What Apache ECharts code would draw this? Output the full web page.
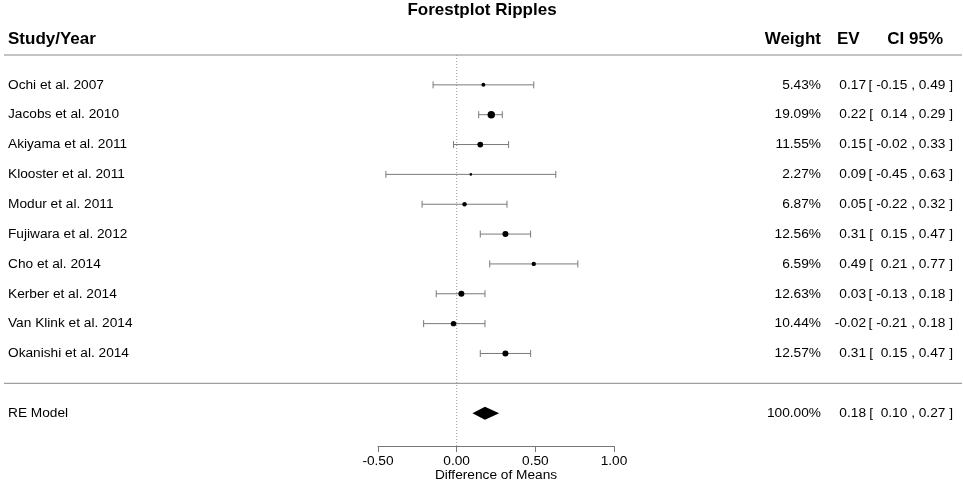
<!DOCTYPE html>
<html><head><meta charset="utf-8">
<script src="https://cdn.jsdelivr.net/npm/echarts@6/dist/echarts.min.js"></script>
<style>html,body{margin:0;padding:0;background:#fff}#c{width:964px;height:483px}</style>
</head><body><div id="c"></div>
<script>
const studies = ['Ochi et al. 2007','Jacobs et al. 2010','Akiyama et al. 2011','Klooster et al. 2011','Modur et al. 2011','Fujiwara et al. 2012','Cho et al. 2014','Kerber et al. 2014','Van Klink et al. 2014','Okanishi et al. 2014'];
const weights = [5.43,19.09,11.55,2.27,6.87,12.56,6.59,12.63,10.44,12.57];
const ev = [0.17,0.22,0.15,0.09,0.05,0.31,0.49,0.03,-0.02,0.31];
const ciLow = [-0.15,0.14,-0.02,-0.45,-0.22,0.15,0.21,-0.13,-0.21,0.15];
const ciHigh = [0.49,0.29,0.33,0.63,0.32,0.47,0.77,0.18,0.18,0.47];
const summaryLabel = 'RE Model';
const summaryWeight = [100.00];
const summaryEV = [0.18];
const summaryLow = [0.10];
const summaryHigh = [0.27];
const xTicks = [-0.5, 0, 0.5, 1.0];
const headers = ['Study/Year','Weight','EV','CI 95%'];

const FONT = '"Liberation Sans", Arial, sans-serif';
const FS = 13.7;
const SUMMARY_ROW = studies.length + 1;
const SEP_ROW = studies.length;

function fmt(v){ return v.toFixed(2); }
function ciText(lo, hi){
  return '[ ' + (lo < 0 ? '' : ' ') + fmt(lo) + ' , ' + fmt(hi) + ' ]';
}

const rows = studies.map((s,i)=>[i, ev[i], ciLow[i], ciHigh[i], weights[i]]);
const textRows = studies.map((s,i)=>({value:[i, ev[i]], name:s, w:weights[i], lo:ciLow[i], hi:ciHigh[i]}));
textRows.push({value:[SUMMARY_ROW, summaryEV[0]], name:summaryLabel, w:summaryWeight[0], lo:summaryLow[0], hi:summaryHigh[0]});

const chart = echarts.init(document.getElementById('c'), null, {renderer:'canvas'});
chart.setOption({
  animation:false,
  backgroundColor:'#fff',
  title:{text:'Forestplot Ripples', left:'center', top:-3, textStyle:{fontFamily:FONT, fontSize:17, fontWeight:'bold', color:'#000'}},
  grid:{left:378, right:350, top:55, bottom:37, containLabel:false, outerBoundsMode:'none'},
  xAxis:{type:'value', min:-0.5, max:1.0, interval:0.5,
    name:'Difference of Means', nameLocation:'middle', nameGap:22, nameMoveOverlap:false,
    nameTextStyle:{fontFamily:FONT, fontSize:FS, color:'#000', verticalAlign:'top'},
    axisLine:{show:true, onZero:false, lineStyle:{color:'#777', width:1}},
    axisTick:{show:true, length:6, lineStyle:{color:'#777'}},
    axisLabel:{formatter:v=>xTicks.includes(v)?fmt(v):'', fontFamily:FONT, fontSize:FS, color:'#000', margin:8},
    splitLine:{show:false}},
  yAxis:{type:'value', min:-1, max:12.1, inverse:true, show:false},
  graphic:[
    {type:'text', left:8, top:31, style:{text:headers[0], font:'bold 17px '+FONT, fill:'#000'}},
    {type:'text', right:964-821, top:31, style:{text:headers[1], font:'bold 17px '+FONT, fill:'#000'}},
    {type:'text', left:837, top:31, style:{text:headers[2], font:'bold 17px '+FONT, fill:'#000'}},
    {type:'text', right:964-943, top:31, style:{text:headers[3], font:'bold 17px '+FONT, fill:'#000'}}
  ],
  series:[
    { // separator lines
      type:'custom', silent:true, clip:false,
      data:[[-1],[SEP_ROW]],
      encode:{y:0},
      renderItem:(params, api)=>{
        const y = api.coord([0, api.value(0)])[1];
        return {type:'line', shape:{x1:4, y1:y, x2:962, y2:y}, style:{stroke:'#888', lineWidth:1}};
      }
    },
    { // zero reference line
      type:'custom', silent:true, clip:false,
      data:[[0,-1,12.1]],
      encode:{x:0},
      renderItem:(params, api)=>{
        const p1 = api.coord([api.value(0), api.value(1)]);
        const p2 = api.coord([api.value(0), api.value(2)]);
        return {type:'line', shape:{x1:p1[0], y1:p1[1], x2:p2[0], y2:p2[1]}, style:{stroke:'#999', lineWidth:1, lineDash:[1,2]}};
      }
    },
    { // study CIs and points
      type:'custom', silent:true, clip:false,
      data:rows,
      encode:{x:[1,2,3], y:0},
      renderItem:(params, api)=>{
        const i = api.value(0);
        const pl = api.coord([api.value(2), i]);
        const ph = api.coord([api.value(3), i]);
        const pc = api.coord([api.value(1), i]);
        const r = 0.85*Math.sqrt(api.value(4));
        const st = {stroke:'#7a7a7a', lineWidth:1};
        return {type:'group', children:[
          {type:'line', shape:{x1:pl[0], y1:pl[1], x2:ph[0], y2:ph[1]}, style:st},
          {type:'line', shape:{x1:pl[0], y1:pl[1]-3.5, x2:pl[0], y2:pl[1]+3.5}, style:st},
          {type:'line', shape:{x1:ph[0], y1:ph[1]-3.5, x2:ph[0], y2:ph[1]+3.5}, style:st},
          {type:'circle', shape:{cx:pc[0], cy:pc[1], r:r}, style:{fill:'#000'}}
        ]};
      }
    },
    { // summary diamond
      type:'custom', silent:true, clip:false,
      data:[[SUMMARY_ROW, summaryEV[0], summaryLow[0], summaryHigh[0]]],
      encode:{x:[1,2,3], y:0},
      renderItem:(params, api)=>{
        const i = api.value(0);
        const pl = api.coord([api.value(2), i]);
        const ph = api.coord([api.value(3), i]);
        const pc = api.coord([api.value(1), i]);
        return {type:'polygon', shape:{points:[[pl[0],pl[1]],[pc[0],pc[1]-6.5],[ph[0],ph[1]],[pc[0],pc[1]+6.5]]}, style:{fill:'#000'}};
      }
    },
    { // row texts
      type:'custom', silent:true, clip:false,
      data:textRows,
      encode:{y:0},
      renderItem:(params, api)=>{
        const d = textRows[params.dataIndex];
        const y = api.coord([0, d.value[0]])[1];
        const f = FS+'px '+FONT;
        return {type:'group', children:[
          {type:'text', x:8, y:y, style:{text:d.name, font:f, fill:'#000', align:'left', verticalAlign:'middle'}},
          {type:'text', x:821, y:y, style:{text:d.w.toFixed(2)+'%', font:f, fill:'#000', align:'right', verticalAlign:'middle'}},
          {type:'text', x:866, y:y, style:{text:fmt(d.value[1]), font:f, fill:'#000', align:'right', verticalAlign:'middle'}},
          {type:'text', x:953, y:y, style:{text:ciText(d.lo, d.hi), font:f, fill:'#000', align:'right', verticalAlign:'middle'}}
        ]};
      }
    }
  ]
});
</script></body></html>
